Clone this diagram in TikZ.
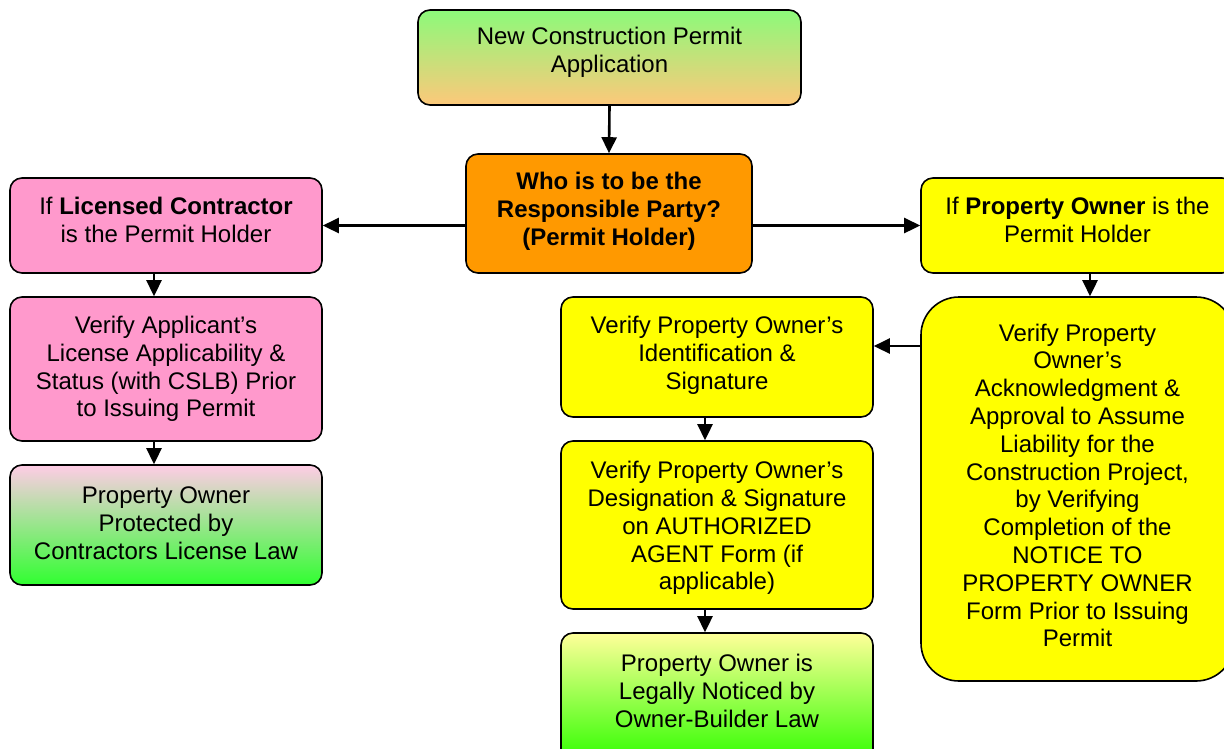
\documentclass[tikz,border=0pt]{standalone}
\usepackage{fontspec}
\setmainfont{Liberation Sans}
\usetikzlibrary{arrows.meta,fit,calc}
\definecolor{pinkf}{HTML}{FF99CC}
\definecolor{orangef}{HTML}{FF9900}
\definecolor{yellowf}{HTML}{FFFF00}
\definecolor{topgreen}{HTML}{8CFA7A}
\definecolor{toporange}{HTML}{FDC87A}
\definecolor{lightpink}{HTML}{FFCCE6}
\definecolor{lawgreen}{HTML}{30FF30}
\definecolor{lightyellow}{HTML}{FFFF99}
\definecolor{obgreen}{HTML}{30FF00}
\begin{document}
\begin{tikzpicture}[x=1pt,y=-1pt,
  box/.style={draw=black,line width=1.6pt,rounded corners=12pt,inner sep=0pt},
  txt/.style={align=center,font=\fontsize{24}{27.8}\selectfont,inner sep=0pt},
  arr/.style={line width=2.6pt,-{Triangle[length=16pt,width=15pt]}}]
\clip (0,0) rectangle (1224,748);
\fill[white] (0,0) rectangle (1224,748);

% boxes
\node[box,top color=topgreen,bottom color=toporange,fit={(418,10) (801,105)}] (top) {};
\node[box,fill=orangef,fit={(466,154) (752,273)}] (ctr) {};
\node[box,fill=pinkf,fit={(10,178) (322,273)}] (l1) {};
\node[box,fill=pinkf,fit={(10,297) (322,441)}] (l2) {};
\node[box,top color=lightpink,bottom color=lawgreen,fit={(10,465) (322,585)}] (l3) {};
\node[box,fill=yellowf,fit={(921,178) (1234,273)}] (r1) {};
\node[box,fill=yellowf,rounded corners=38pt,fit={(921,297) (1234,681)}] (r2) {};
\node[box,fill=yellowf,fit={(561,297) (873,417)}] (m1) {};
\node[box,fill=yellowf,fit={(561,441) (873,609)}] (m2) {};
\node[box,top color=lightyellow,bottom color=obgreen,fit={(561,633) (873,762)}] (m3) {};

% texts
\node[txt] (topt) at (609.5,52.5) {New Construction Permit\\Application};
\node[txt,font=\fontsize{24}{27.8}\selectfont\bfseries] (ctrt) at (609,211) {Who is to be the\\Responsible Party?\\(Permit Holder)};
\node[txt] (l1t) at (166,220) {If \textbf{Licensed Contractor}\\is the Permit Holder};
\node[txt] (l2t) at (166,369) {Verify Applicant’s\\License Applicability \&\\Status (with CSLB) Prior\\to Issuing Permit};
\node[txt] (l3t) at (166,523) {Property Owner\\Protected by\\Contractors License Law};
\node[txt] (r1t) at (1077.5,220) {If \textbf{Property Owner} is the\\Permit Holder};
\node[txt] (r2t) at (1077.5,485.5) {Verify Property\\Owner’s\\Acknowledgment \&\\Approval to Assume\\Liability for the\\Construction Project,\\by Verifying\\Completion of the\\NOTICE TO\\PROPERTY OWNER\\Form Prior to Issuing\\Permit};
\node[txt] (m1t) at (717,355) {Verify Property Owner’s\\Identification \&\\Signature};
\node[txt] (m2t) at (717,528) {Verify Property Owner’s\\Designation \& Signature\\on AUTHORIZED\\AGENT Form (if\\applicable)};
\node[txt] (m3t) at (717,691) {Property Owner is\\Legally Noticed by\\Owner-Builder Law};

% connectors
\draw[arr] (top.south) -- (ctr.north);
\draw[arr] (ctr.west |- l1.east) -- (l1.east);
\draw[arr] (ctr.east |- r1.west) -- (r1.west);
\draw[arr] ([xshift=-12pt]l1.south) -- ([xshift=-12pt]l2.north);
\draw[arr] ([xshift=-12pt]l2.south) -- ([xshift=-12pt]l3.north);
\draw[arr] ([xshift=12.5pt]r1.south) -- ([xshift=12.5pt]r2.north);
\draw[arr] ([yshift=11pt]r2.west |- m1.east) -- ([yshift=11pt]m1.east);
\draw[arr] ([xshift=-12pt]m1.south) -- ([xshift=-12pt]m2.north);
\draw[arr] ([xshift=-12pt]m2.south) -- ([xshift=-12pt]m3.north);
\end{tikzpicture}
\end{document}
